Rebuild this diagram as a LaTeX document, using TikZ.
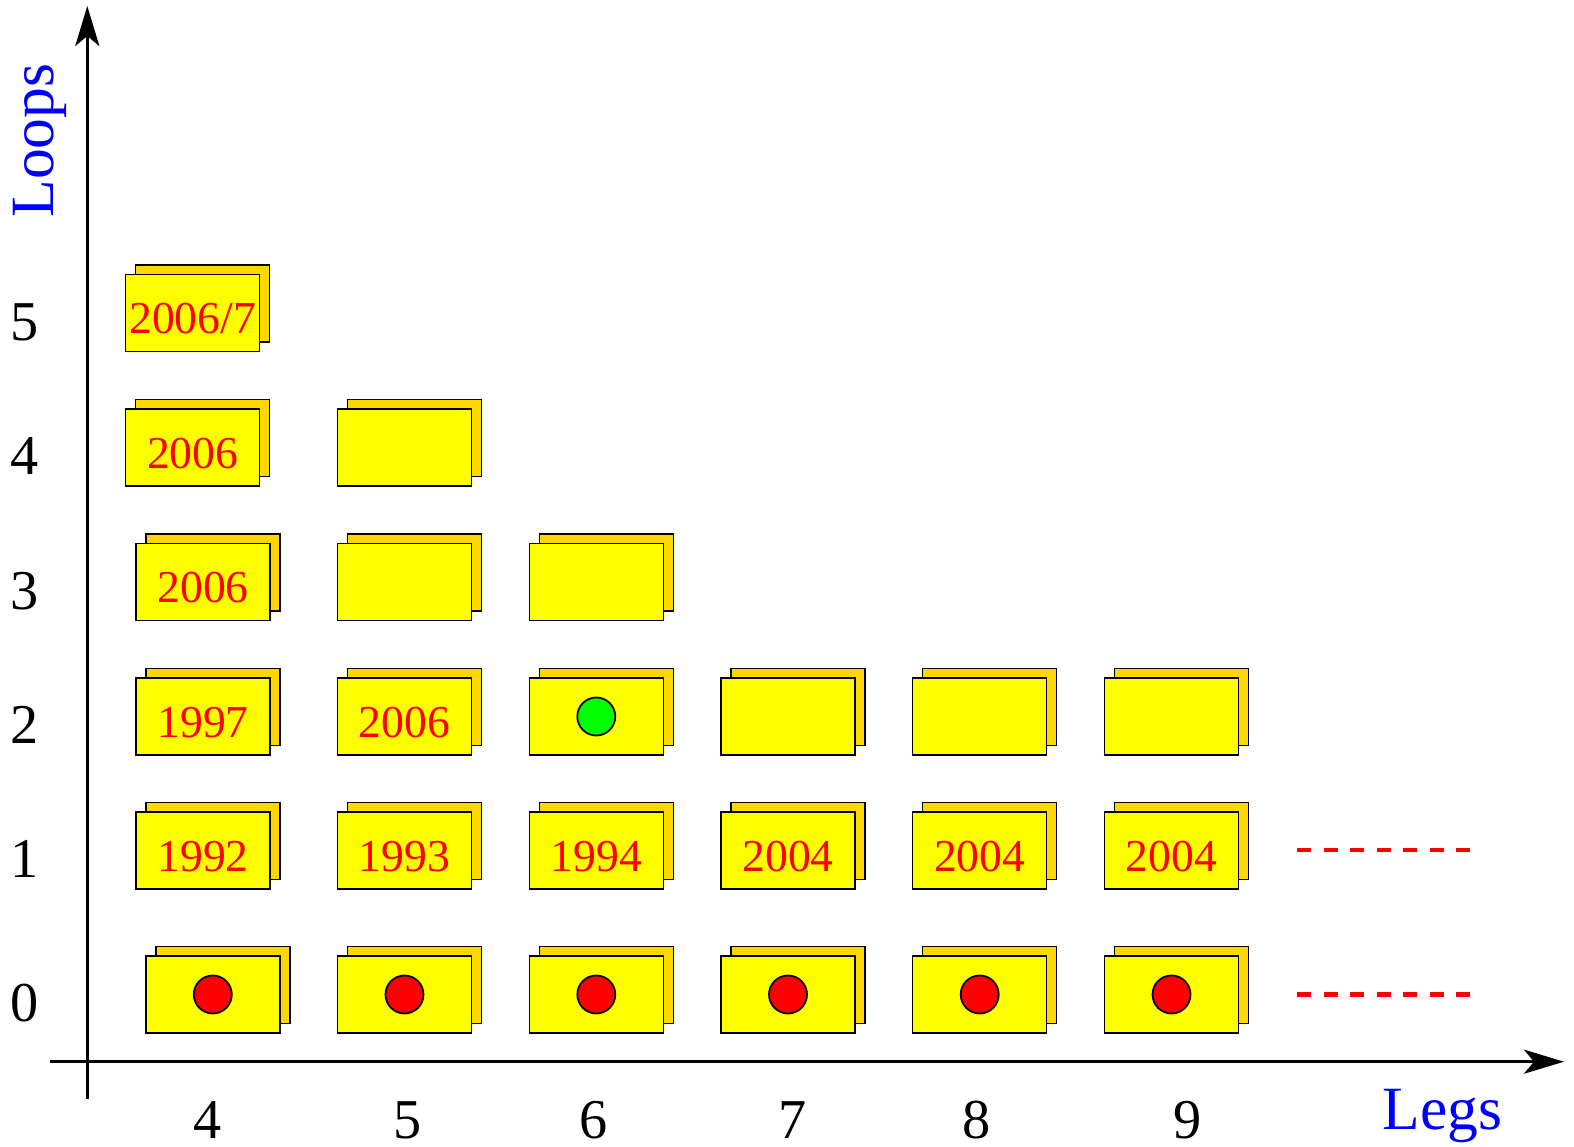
\documentclass[tikz,border=0pt]{standalone}
\usepackage{fontspec}
\setmainfont{Liberation Serif}
\usetikzlibrary{arrows.meta, shadows}
\usepackage{xcolor}
\definecolor{cardyellow}{HTML}{FFFF00}
\definecolor{cardgold}{HTML}{FFD700}
\definecolor{yearred}{HTML}{FF0000}
\definecolor{axisblue}{HTML}{0000FF}
\definecolor{dotgreen}{HTML}{00FF00}

\begin{document}
\begin{tikzpicture}[
    card/.style={rectangle, fill=cardyellow, draw=black, line width=0.4pt,
                 minimum width=1.34cm, minimum height=0.77cm, inner sep=0pt,
                 text height=0.41cm, text depth=0pt,
                 font=\fontsize{13}{15}\selectfont, text=yearred,
                 copy shadow={shadow xshift=0.1cm, shadow yshift=0.095cm,
                              fill=cardgold, draw=black, line width=0.4pt}},
    ball/.style={circle, draw=black, line width=0.5pt, fill=yearred,
                 minimum size=0.38cm, inner sep=0pt},
    arr/.style={-{Stealth[length=4mm, width=2.4mm, inset=1mm]}, line width=0.9pt},
    dashline/.style={yearred, line width=1.2pt, dash pattern=on 0.14cm off 0.125cm},
    num/.style={font=\fontsize{16}{18}\selectfont},
    axislabel/.style={font=\fontsize{17.5}{20}\selectfont, text=axisblue}
  ]
    \useasboundingbox (0,0) rectangle (15.74,11.46);

    %% Axes
    \coordinate (xstart) at (0.50, 0.843);
    \coordinate (xend)   at (15.64, 0.843);
    \coordinate (ystart) at (0.873, 0.47);
    \coordinate (yend)   at (0.873, 11.40);
    \draw[arr] (xstart) -- (xend);
    \draw[arr] (ystart) -- (yend);
    \node[axislabel, anchor=base] (legs) at (14.425, 0.17) {Legs};
    \node[axislabel, rotate=90] (loops) at (0.40, 10.055) {Loops};

    %% Legs
    \node[num] (n4) at (2.078, 0.26) {4};
    \node[num] (n5) at (4.075, 0.26) {5};
    \node[num] (n6) at (5.932, 0.26) {6};
    \node[num] (n7) at (7.93, 0.26) {7};
    \node[num] (n8) at (9.767, 0.26) {8};
    \node[num] (n9) at (11.875, 0.26) {9};

    %% Loops
    \node[num] (l0) at (0.25, 1.425) {0};
    \node[num] (l1) at (0.25, 2.87) {1};
    \node[num] (l2) at (0.25, 4.215) {2};
    \node[num] (l3) at (0.25, 5.55) {3};
    \node[num] (l4) at (0.25, 6.90) {4};
    \node[num] (l5) at (0.25, 8.24) {5};

    %% Tree level
    \node[card] (c04) at (2.128, 1.515) {};
    \node[card] (c05) at (4.045, 1.515) {};
    \node[card] (c06) at (5.963, 1.515) {};
    \node[card] (c07) at (7.88, 1.515) {};
    \node[card] (c08) at (9.797, 1.515) {};
    \node[card] (c09) at (11.715, 1.515) {};
    \node[ball] (d04) at (c04) {};
    \node[ball] (d05) at (c05) {};
    \node[ball] (d06) at (c06) {};
    \node[ball] (d07) at (c07) {};
    \node[ball] (d08) at (c08) {};
    \node[ball] (d09) at (c09) {};
    \coordinate (t0a) at (12.97, 1.515);
    \coordinate (t0b) at (14.71, 1.515);
    \draw[dashline] (t0a) -- (t0b);

    %% One loop
    \node[card] (c14) at (2.03, 2.955) {1992};
    \node[card] (c15) at (4.045, 2.955) {1993};
    \node[card] (c16) at (5.963, 2.955) {1994};
    \node[card] (c17) at (7.88, 2.955) {2004};
    \node[card] (c18) at (9.797, 2.955) {2004};
    \node[card] (c19) at (11.715, 2.955) {2004};
    \coordinate (t1a) at (12.97, 2.96);
    \coordinate (t1b) at (14.71, 2.96);
    \draw[dashline] (t1a) -- (t1b);

    %% Two loops
    \node[card] (c24) at (2.03, 4.295) {1997};
    \node[card] (c25) at (4.045, 4.295) {2006};
    \node[card] (c26) at (5.963, 4.295) {};
    \node[card] (c27) at (7.88, 4.295) {};
    \node[card] (c28) at (9.797, 4.295) {};
    \node[card] (c29) at (11.715, 4.295) {};
    \node[ball, fill=dotgreen] (d26) at (c26) {};

    %% Three to five loops
    \node[card] (c34) at (2.03, 5.64) {2006};
    \node[card] (c35) at (4.045, 5.64) {};
    \node[card] (c36) at (5.963, 5.64) {};
    \node[card] (c44) at (1.927, 6.984) {2006};
    \node[card] (c45) at (4.045, 6.984) {};
    \node[card] (c54) at (1.927, 8.329) {2006/7};
  \end{tikzpicture}
\end{document}
